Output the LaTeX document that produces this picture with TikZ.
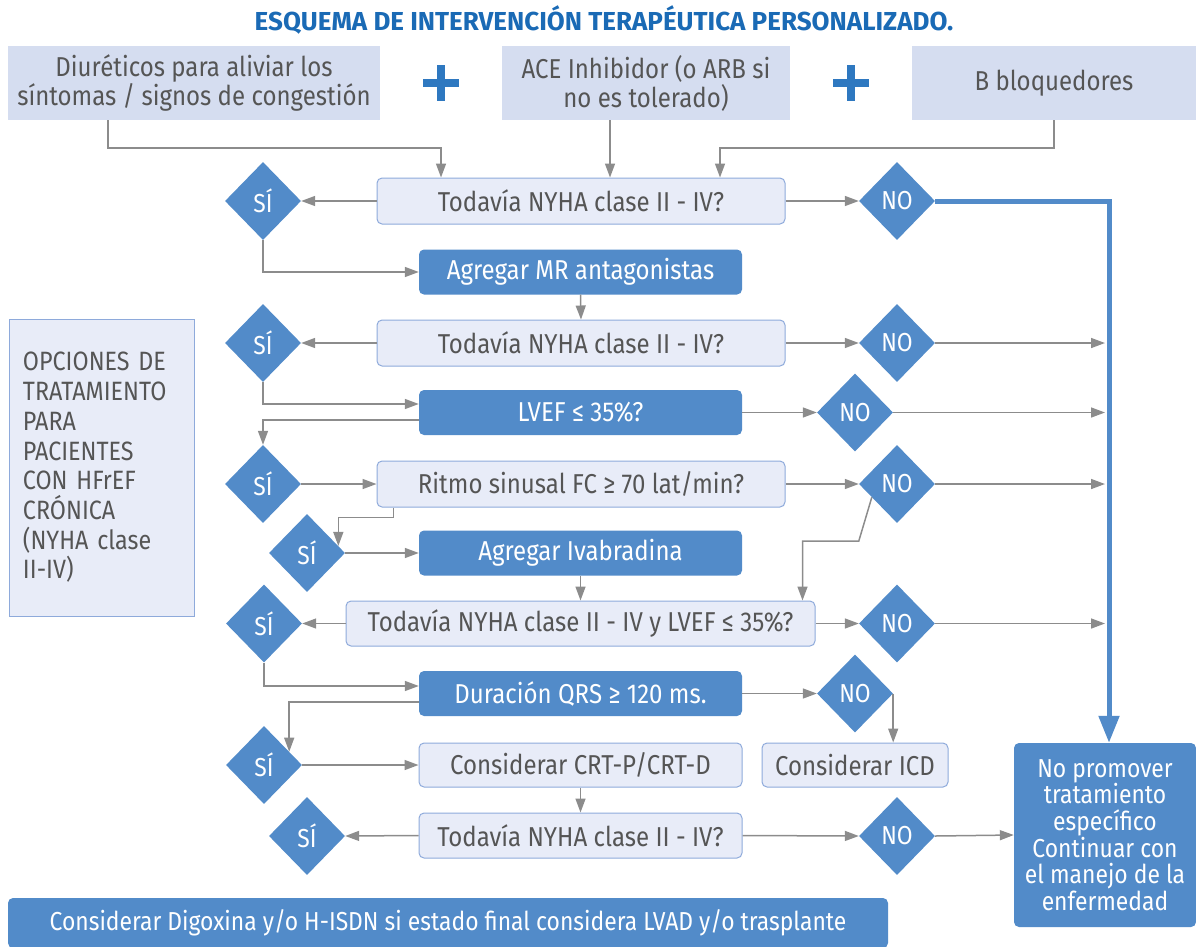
\documentclass[tikz,border=0pt]{standalone}
\usepackage{fontspec}
\setmainfont{Fira Sans}[FakeStretch=0.88]
\newfontfamily\titlefont{Fira Sans}
\usetikzlibrary{shapes.geometric,arrows.meta,calc}
\definecolor{ink}{HTML}{555555}
\definecolor{titleblue}{HTML}{1A6AB5}
\definecolor{plusblue}{HTML}{2E78C0}
\definecolor{topfill}{HTML}{D5DDF0}
\definecolor{qfill}{HTML}{E8ECF8}
\definecolor{qline}{HTML}{8EAADB}
\definecolor{act}{HTML}{528BC9}
\definecolor{conn}{HTML}{8C8C8C}
\begin{document}
\begin{tikzpicture}[x=1pt,y=-1pt,
  every node/.style={font=\fontsize{27.3}{29}\selectfont, inner sep=0pt},
  topbox/.style={rectangle, fill=topfill, text=ink, align=center},
  qbox/.style={rectangle, rounded corners=5pt, fill=qfill, draw=qline, line width=1pt, text=ink, align=center},
  actbox/.style={rectangle, rounded corners=5pt, fill=act, text=white, align=center},
  dec/.style={diamond, aspect=1, fill=act, text=white, minimum width=76pt, minimum height=78pt,
              font=\fontsize{26}{28}\selectfont},
  wide/.style={minimum width=408pt, minimum height=46pt},
  mid/.style={minimum width=323pt, minimum height=45pt},
  arr/.style={draw=conn, line width=1.5pt, -{Triangle[length=14pt,width=10pt]}},
  rail/.style={draw=act, line width=5pt, -{Triangle[length=27pt,width=20pt]}},
]
\useasboundingbox (0,0) rectangle (1196,946);

% title
\node[font=\titlefont\bfseries\fontsize{26}{30}\selectfont, text=titleblue] (title) at (604,20)
  {ESQUEMA DE INTERVENCIÓN TERAPÉUTICA PERSONALIZADO.};

% starting therapies
\node[topbox, minimum width=372pt, minimum height=74pt] (diur) at (194,83)
  {Diuréticos para aliviar los\\síntomas / signos de congestión};
\node[topbox, minimum width=288pt, minimum height=74pt] (ace) at (646,83)
  {ACE Inhibidor (o ARB si\\no es tolerado)};
\node[topbox, minimum width=284pt, minimum height=74pt] (beta) at (1054,83)
  {B bloquedores};
\draw[plusblue, line width=8pt] (423,83) -- (459,83) (441,65) -- (441,101);
\draw[plusblue, line width=8pt] (833,83) -- (869,83) (851,65) -- (851,101);

% side panel
\node[rectangle, fill=qfill, draw=qline, line width=1pt, text=ink,
      minimum width=185pt, minimum height=297pt, text width=157pt, align=left,
      font=\fontsize{26.5}{29.7}\selectfont] (panel) at (101.5,467.5)
  {OPCIONES DE\\TRATAMIENTO\\PARA\\PACIENTES\\CON HFrEF\\CRÓNICA\\(NYHA clase\\II-IV)};

% main column
\node[qbox, wide] (q1) at (581,201) {Todavía NYHA clase II - IV?};
\node[actbox, mid] (mr) at (580.5,272) {Agregar MR antagonistas};
\node[qbox, wide] (q2) at (581,343) {Todavía NYHA clase II - IV?};
\node[actbox, mid] (lvef) at (580.5,412.5) {LVEF ≤ 35\%?};
\node[qbox, wide] (ritmo) at (581,484) {Ritmo sinusal FC ≥ 70 lat/min?};
\node[actbox, mid] (ivab) at (580.5,553) {Agregar Ivabradina};
\node[qbox, minimum width=469pt, minimum height=45pt] (q3) at (580.5,623.5) {Todavía NYHA clase II - IV y LVEF ≤ 35\%?};
\node[actbox, mid] (qrs) at (580.5,693.5) {Duración QRS ≥ 120 ms.};
\node[qbox, mid, minimum height=44pt] (crt) at (580.5,765) {Considerar CRT-P/CRT-D};
\node[qbox, minimum width=186pt, minimum height=44pt] (icd) at (855,765) {Considerar ICD};
\node[qbox, mid] (q4) at (580.5,835.5) {Todavía NYHA clase II - IV?};

% outcome boxes
\node[actbox, minimum width=182pt, minimum height=184pt, font=\fontsize{26}{26.6}\selectfont] (final) at (1105,835)
  {No promover\\tratamiento\\específico\\Continuar con\\el manejo de la\\enfermedad};
\node[actbox, minimum width=880pt, minimum height=50pt, font=\fontsize{26}{28}\selectfont] (dig) at (448,923)
  {Considerar Digoxina y/o H-ISDN si estado final considera LVAD y/o trasplante};

% decisions
\node[dec] (s1) at (263,201) {SÍ};
\node[dec] (n1) at (897,201) {NO};
\node[dec] (s2) at (263,343) {SÍ};
\node[dec] (n2) at (897,343) {NO};
\node[dec] (n3) at (855,412.5) {NO};
\node[dec] (s3) at (263,484) {SÍ};
\node[dec] (n4) at (897,484) {NO};
\node[dec] (s4) at (307,553) {SÍ};
\node[dec] (s5) at (264,623.5) {SÍ};
\node[dec] (n5) at (897,623.5) {NO};
\node[dec] (n6) at (855,693.5) {NO};
\node[dec] (s6) at (264,765) {SÍ};
\node[dec] (s7) at (307,836) {SÍ};
\node[dec] (n7) at (897,836) {NO};

\coordinate (railx) at (1105,0);

% connectors from the starting therapies
\draw[arr] ([xshift=100pt]diur.south west) -- ++(0,28) -| ([xshift=-140pt]q1.north);
\draw[arr] ([xshift=29pt]q1.north |- ace.south) -- ([xshift=29pt]q1.north);
\draw[arr] (beta.south) -- ++(0,28) -| ([xshift=139pt]q1.north);

% first check
\draw[arr] (q1.west) -- (s1.east);
\draw[arr] (q1.east) -- (n1.west);
\draw[rail] (n1.east) -| ([xshift=4pt]final.north);
\draw[arr] (s1.south) |- (mr.west);
\draw[arr] (mr.south) -- (q2.north);

% second check
\draw[arr] (q2.west) -- (s2.east);
\draw[arr] (q2.east) -- (n2.west);
\draw[arr] (n2.east) -- (n2.east -| railx);
\draw[arr] (s2.south) |- ([yshift=8.5pt]lvef.west);

% LVEF
\draw[arr] (lvef.east) -- (n3.west);
\draw[arr] (n3.east) -- (n3.east -| railx);
\draw[arr] ([yshift=-7.5pt]lvef.west) -| (s3.north);

% sinus rhythm
\draw[arr] (s3.east) -- (ritmo.west);
\draw[arr] (ritmo.east) -- (n4.west);
\draw[arr] (n4.east) -- (n4.east -| railx);
\draw[arr] ([xshift=17pt]ritmo.south west) -- ++(0,10) -| ($(s4.north)!0.82!(s4.east)$);
\draw[arr] (s4.east) -- (ivab.west);
\draw[arr] (ivab.south) -- (q3.north);
\draw[arr] ($(n4.west)!0.34!(n4.south)$) -- (n4.west |- 0,541) -| ([xshift=-13pt]q3.north east);

% third check
\draw[arr] (q3.west) -- (s5.east);
\draw[arr] (q3.east) -- (n5.west);
\draw[arr] (n5.east) -- (n5.east -| railx);
\draw[arr] (s5.south) |- ([yshift=7.5pt]qrs.west);

% QRS
\draw[arr] (qrs.east) -- (n6.west);
\draw[arr] (n6.east) -- (n6.east |- icd.north);
\draw[arr] ([yshift=-8.5pt]qrs.west) -| ($(s6.north)!0.66!(s6.east)$);
\draw[arr] (s6.east) -- (crt.west);
\draw[arr] (crt.south) -- (q4.north);

% last check
\draw[arr] (q4.west) -- (s7.east);
\draw[arr] (q4.east) -- (n7.west);
\draw[arr] (n7.east) -- (final.west);
\end{tikzpicture}
\end{document}
